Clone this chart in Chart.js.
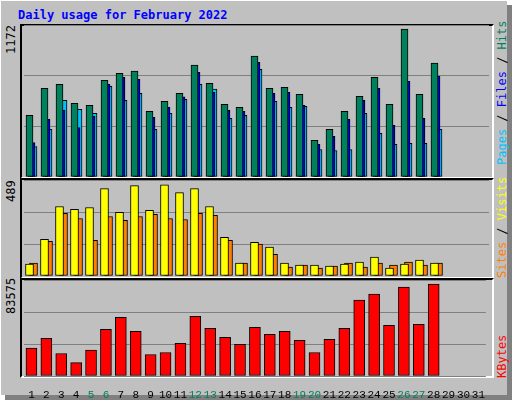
<!DOCTYPE html>
<html>
<head>
<meta charset="utf-8">
<script src="https://cdn.jsdelivr.net/npm/chart.js@4"></script>
<style>
  body { margin: 0; background: #fff; }
  #frame { position: absolute; left: 0; top: 0; width: 506px; height: 394px; background: #c0c0c0;
    border-top: 1px solid #fff; border-left: 1px solid #fff; box-shadow: 5px 5px 0 #808080; }
  .box { position: absolute; left: 20px; width: 470px; border-top: 2px solid #000; border-left: 2px solid #000;
    border-right: 2px solid #fff; border-bottom: 2px solid #fff; }
  .cv { position: absolute; left: 24px; width: 465px; }
  .rot { position: absolute; font: 12px "DejaVu Sans Mono", monospace; white-space: nowrap;
    transform: rotate(-90deg); transform-origin: 0 0; }
  #title { position: absolute; left: 18px; top: 8px; font: bold 12px "DejaVu Sans Mono", monospace; color: #0000ff; }
</style>
</head>
<body>
<div id="frame"></div>
<div id="title">Daily usage for February 2022</div>
<div class="box" style="top:24px;height:151px"></div>
<div class="box" style="top:178px;height:97px"></div>
<div class="box" style="top:278px;height:96px"></div>
<div class="cv" style="top:25px;height:152px"><canvas id="chartTop"></canvas></div>
<div class="cv" style="top:180px;height:96px"><canvas id="chartMid"></canvas></div>
<div class="cv" style="top:280px;height:118px"><canvas id="chartBot"></canvas></div>

<div class="rot" style="left:4px;top:54px">1172</div>
<div class="rot" style="left:4px;top:202px">489</div>
<div class="rot" style="left:4px;top:314px">83575</div>
<div class="rot" style="left:495px;top:165px"><span style="color:#00c0ff">Pages</span> / <span style="color:#0000ff">Files</span> / <span style="color:#00805c">Hits</span></div>
<div class="rot" style="left:495px;top:278px"><span style="color:#ff8000">Sites</span> / <span style="color:#ffff00">Visits</span></div>
<div class="rot" style="left:495px;top:378px"><span style="color:#ff0000">KBytes</span></div>

<script>
// DATA
const days = [];
for (let d = 1; d <= 31; d++) days.push(String(d));
const weekend = [5, 6, 12, 13, 19, 20, 26, 27];

const hits = [475, 684, 715, 568, 553, 746, 800, 816, 506, 584, 645, 862, 723, 560, 537, 932, 684, 692, 638, 282, 367, 506, 622, 769, 560, 1141, 638, 878];
const files = [266, 444, 516, 382, 468, 715, 769, 754, 460, 537, 619, 808, 653, 514, 506, 885, 645, 653, 553, 251, 313, 444, 591, 684, 398, 738, 452, 777];
const pages = [235, 367, 591, 522, 491, 700, 591, 645, 367, 491, 599, 715, 677, 452, 475, 831, 584, 537, 545, 212, 204, 212, 491, 336, 251, 259, 259, 367];
const visits = [61, 187, 354, 339, 349, 445, 324, 460, 334, 465, 425, 445, 354, 197, 66, 172, 147, 66, 56, 56, 51, 61, 71, 96, 40, 61, 81, 66];
const sites = [66, 177, 319, 293, 182, 303, 283, 303, 314, 293, 288, 319, 309, 182, 66, 162, 111, 46, 56, 40, 51, 66, 46, 66, 56, 71, 56, 66];
const kbytes = [24254, 32729, 19579, 11689, 22501, 40619, 51139, 38866, 18702, 20455, 28346, 52015, 41496, 33605, 27469, 42372, 36236, 38866, 30976, 20455, 31852, 41496, 66042, 71302, 44125, 77438, 45002, 80068];

const maxTop = 1172;
const maxMid = 489;
const maxBot = 83575;

Chart.defaults.animation = false;
Chart.defaults.maintainAspectRatio = false;
Chart.defaults.plugins.legend.display = false;
Chart.defaults.plugins.tooltip.enabled = false;

// shift each dataset sideways a little so the bars overlap like the original
const shiftPlugin = {
  id: "shift",
  beforeDatasetDraw(chart, args) {
    chart.ctx.save();
    chart.ctx.translate(chart.data.datasets[args.index].shift || 0, 0);
  },
  afterDatasetDraw(chart) {
    chart.ctx.restore();
  },
};

function bar(data, color, width, shift) {
  return { data: data, backgroundColor: color, borderColor: "#000", borderWidth: 1,
    borderSkipped: false, barThickness: width, grouped: false, shift: shift };
}

function scales(max, showX) {
  return {
    x: {
      display: showX,
      grid: { display: false }, border: { display: false },
      ticks: {
        padding: 4, autoSkip: false, maxRotation: 0,
        font: { family: "Liberation Mono", size: 11 },
        color: (c) => (weekend.includes(c.index + 1) ? "#00805c" : "#000"),
      },
      afterFit: (s) => { if (showX) s.height = 22; },
    },
    y: {
      min: 0, max: max,
      ticks: { display: false, stepSize: max / 3 },
      grid: { color: "#808080", lineWidth: 1, drawTicks: false },
      border: { display: false },
      afterFit: (s) => { s.width = 0; },
    },
  };
}

const noPad = { padding: 0 };

// PAGES / FILES / HITS
new Chart(document.getElementById("chartTop"), {
  type: "bar",
  data: {
    labels: days,
    datasets: [
      bar(hits, "#00805c", 7, -2),
      bar(files, "#0000ff", 7, 0),
      bar(pages, "#00c0ff", 7, 2),
    ],
  },
  options: { layout: noPad, scales: scales(maxTop, false) },
  plugins: [shiftPlugin],
});

// VISITS / SITES
new Chart(document.getElementById("chartMid"), {
  type: "bar",
  data: {
    labels: days,
    datasets: [
      bar(visits, "#ffff00", 8, -2),
      bar(sites, "#ff8000", 8, 2),
    ],
  },
  options: { layout: noPad, scales: scales(maxMid, false) },
  plugins: [shiftPlugin],
});

// KBYTES
new Chart(document.getElementById("chartBot"), {
  type: "bar",
  data: {
    labels: days,
    datasets: [bar(kbytes, "#ff0000", 11, 0)],
  },
  options: { layout: noPad, scales: scales(maxBot, true) },
  plugins: [shiftPlugin],
});
</script>
</body>
</html>
